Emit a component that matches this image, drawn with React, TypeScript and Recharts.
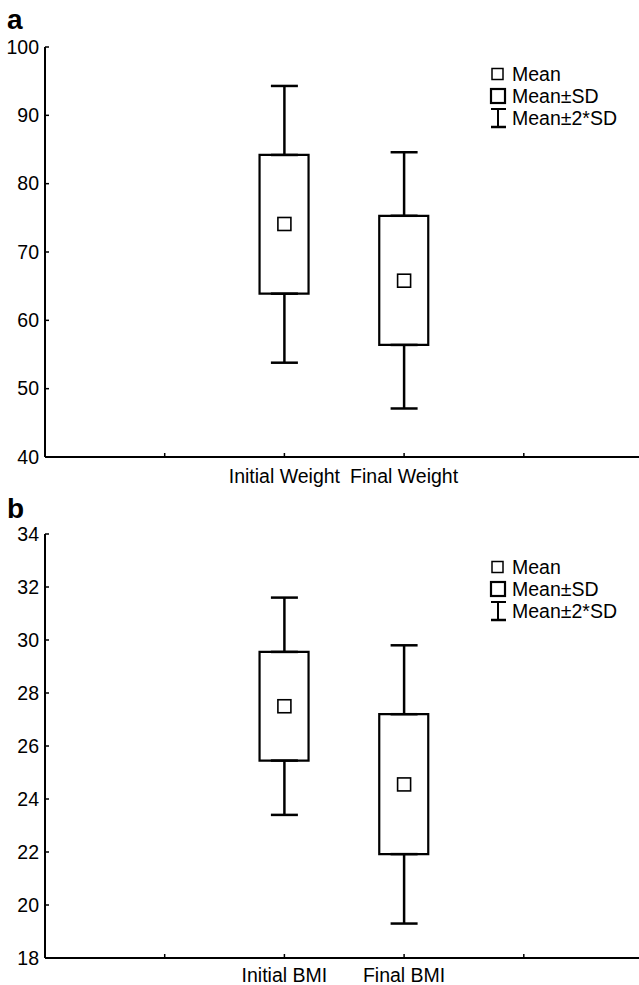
import React from "react"
import {Bar, ComposedChart, ErrorBar, Scatter, XAxis, YAxis} from "recharts"

const FONT = '"Liberation Sans", Arial, sans-serif'
const FS = 19.5

// slot of each box on the 0..5 x axis
const slots = [2, 3]
const axisSlots = [0, 1, 2, 3, 4, 5]

const weightLabels = ["Initial Weight", "Final Weight"]
const weightMean = [74.1, 65.8]
const weightSdLow = [63.9, 56.4]
const weightSdHigh = [84.2, 75.3]
const weight2SdLow = [53.8, 47.1]
const weight2SdHigh = [94.3, 84.6]
const weightTicks = [40, 50, 60, 70, 80, 90, 100]

const bmiLabels = ["Initial BMI", "Final BMI"]
const bmiMean = [27.5, 24.55]
const bmiSdLow = [25.45, 21.92]
const bmiSdHigh = [29.55, 27.2]
const bmi2SdLow = [23.4, 19.3]
const bmi2SdHigh = [31.6, 29.8]
const bmiTicks = [18, 20, 22, 24, 26, 28, 30, 32, 34]

const legendItems = ["Mean", "Mean±SD", "Mean±2*SD"]

function buildRows(mean: number[], lo: number[], hi: number[], lo2: number[], hi2: number[]) {
    return slots.map((x, i) => ({
        x,
        mean: mean[i],
        box: [lo[i], hi[i]],
        hiBase: hi[i],
        hiErr: [0, hi2[i] - hi[i]],
        loBase: lo[i],
        loErr: [lo[i] - lo2[i], 0],
    }))
}

const noShape = () => <g/>

const meanShape = (p: any) => (
    <rect x={p.cx - 6.5} y={p.cy - 6.5} width={13} height={13} fill="#fff" stroke="#000" strokeWidth={1.6}/>
)

function YTick({x, y, payload}: any) {
    return (
        <g>
            <line x1={x} x2={x + 4} y1={y} y2={y} stroke="#000" strokeWidth={1.5}/>
            <text x={x - 6} y={y} dy="0.35em" textAnchor="end" fontSize={FS} fontFamily={FONT} fill="#000">
                {payload.value}
            </text>
        </g>
    )
}

function makeXTick(labels: string[], labelGap: number) {
    return ({x, y, payload}: any) => {
        const idx = slots.indexOf(payload.value)
        return (
            <g>
                <line x1={x} x2={x} y1={y} y2={y - 4} stroke="#000" strokeWidth={1.5}/>
                {idx >= 0 && (
                    <text x={x} y={y + labelGap} dy="0.35em" textAnchor="middle" fontSize={FS} fontFamily={FONT} fill="#000">
                        {labels[idx]}
                    </text>
                )}
            </g>
        )
    }
}

function TopTick({x, y}: any) {
    return <line x1={x} x2={x} y1={y} y2={y + 4} stroke="#000" strokeWidth={1.5}/>
}

type PanelProps = {
    letter: string
    labels: string[]
    rows: any[]
    ticks: number[]
    top: number
    height: number
    marginTop: number
    xAxisHeight: number
    labelGap: number
    letterY: number
    legendTop: number
}

function Panel({letter, labels, rows, ticks, top, height, marginTop, xAxisHeight, labelGap, letterY, legendTop}: PanelProps) {
    return (
        <div style={{position: "absolute", left: 0, top, width: 660, height}}>
            <ComposedChart
                width={660}
                height={height}
                data={rows}
                margin={{top: marginTop, right: 16.5, bottom: 0, left: 0}}
            >
                <XAxis
                    dataKey="x"
                    type="number"
                    domain={[0, 5]}
                    ticks={axisSlots}
                    interval={0}
                    height={xAxisHeight}
                    tickSize={0}
                    tickMargin={0}
                    tickLine={false}
                    tick={makeXTick(labels, labelGap)}
                    axisLine={{stroke: "#000", strokeWidth: 2}}
                />
                <XAxis
                    xAxisId="top"
                    orientation="top"
                    dataKey="x"
                    type="number"
                    domain={[0, 5]}
                    ticks={axisSlots}
                    interval={0}
                    height={0}
                    tickSize={0}
                    tickMargin={0}
                    tickLine={false}
                    tick={<TopTick/>}
                    axisLine={{stroke: "#000", strokeWidth: 2}}
                />
                <YAxis
                    type="number"
                    domain={[ticks[0], ticks[ticks.length - 1]]}
                    ticks={ticks}
                    interval={0}
                    width={45}
                    tickSize={0}
                    tickMargin={0}
                    tickLine={false}
                    tick={<YTick/>}
                    axisLine={{stroke: "#000", strokeWidth: 2}}
                />
                <Scatter dataKey="hiBase" shape={noShape} isAnimationActive={false}>
                    <ErrorBar dataKey="hiErr" direction="y" width={13.5} stroke="#000" strokeWidth={2.5}/>
                </Scatter>
                <Scatter dataKey="loBase" shape={noShape} isAnimationActive={false}>
                    <ErrorBar dataKey="loErr" direction="y" width={13.5} stroke="#000" strokeWidth={2.5}/>
                </Scatter>
                <Bar dataKey="box" barSize={49} fill="#fff" stroke="#000" strokeWidth={2.2} isAnimationActive={false}/>
                <Scatter dataKey="mean" shape={meanShape} isAnimationActive={false}/>
            </ComposedChart>
            <svg width={639} height={height} style={{position: "absolute", left: 0, top: 0, pointerEvents: "none"}}>
                <text x={7} y={letterY} fontSize={28} fontWeight="bold" fontFamily={FONT} fill="#000">{letter}</text>
                <g fontFamily={FONT} fontSize={FS} fill="#000">
                    <rect x={492} y={legendTop - 5.5} width={11} height={11} fill="#fff" stroke="#000" strokeWidth={1.5}/>
                    <rect x={491} y={legendTop + 22 - 7} width={14} height={14} fill="#fff" stroke="#000" strokeWidth={2.2}/>
                    <line x1={498} x2={498} y1={legendTop + 35} y2={legendTop + 53} stroke="#000" strokeWidth={2}/>
                    <line x1={491} x2={506} y1={legendTop + 35} y2={legendTop + 35} stroke="#000" strokeWidth={2}/>
                    <line x1={491} x2={506} y1={legendTop + 53} y2={legendTop + 53} stroke="#000" strokeWidth={2.5}/>
                    {legendItems.map((t, i) => (
                        <text key={t} x={512} y={legendTop + i * 22} dy="0.35em">{t}</text>
                    ))}
                </g>
            </svg>
        </div>
    )
}

export default function App() {
    const weightRows = buildRows(weightMean, weightSdLow, weightSdHigh, weight2SdLow, weight2SdHigh)
    const bmiRows = buildRows(bmiMean, bmiSdLow, bmiSdHigh, bmi2SdLow, bmi2SdHigh)
    return (
        <div style={{position: "absolute", left: 0, top: 0, width: 639, height: 985, overflow: "hidden", background: "#fff"}}>
            <Panel letter="a" labels={weightLabels} rows={weightRows} ticks={weightTicks}
                   top={0} height={490} marginTop={47} xAxisHeight={33} labelGap={19} letterY={29} legendTop={74}/>
            <Panel letter="b" labels={bmiLabels} rows={bmiRows} ticks={bmiTicks}
                   top={490} height={500} marginTop={44} xAxisHeight={32} labelGap={17} letterY={28} legendTop={77}/>
        </div>
    )
}
